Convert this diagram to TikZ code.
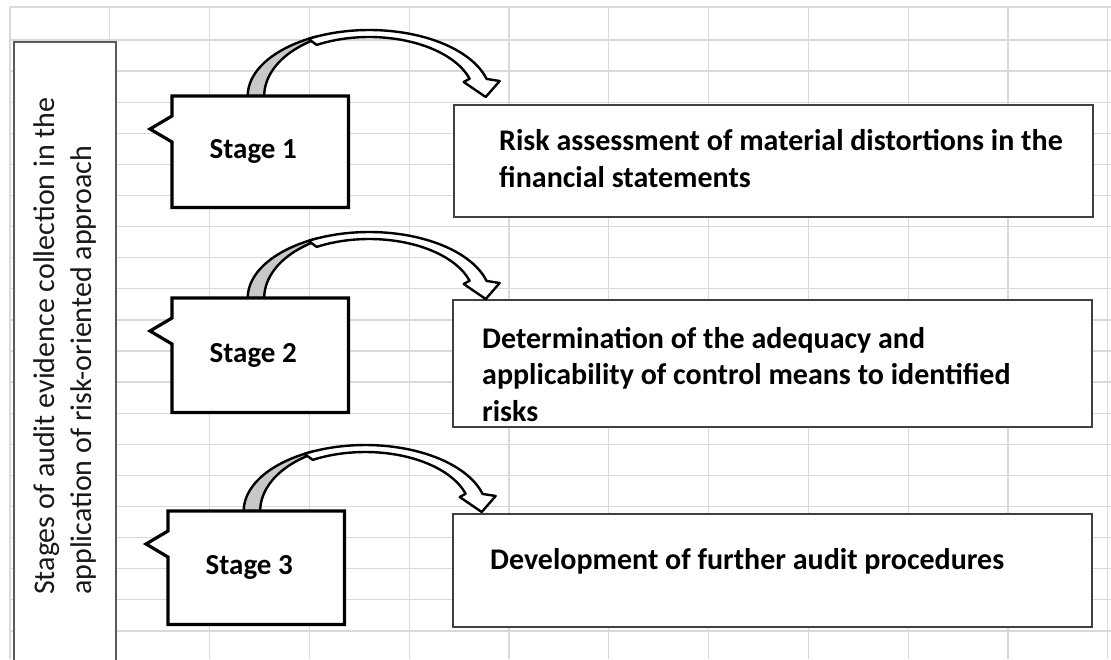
\documentclass[tikz,border=0pt]{standalone}
\usepackage{fontspec}
\setmainfont{Carlito}
\usetikzlibrary{positioning,calc}

\definecolor{gridgray}{RGB}{217,217,217}
\definecolor{bandgray}{RGB}{200,200,200}
\definecolor{framegray}{RGB}{64,64,64}
\definecolor{sidegray}{RGB}{89,89,89}

\tikzset{
  gridline/.style={draw=gridgray, line width=1.3pt},
  sidebox/.style={rectangle, draw=sidegray, line width=1.8pt, fill=white, minimum width=102pt, minimum height=640pt, inner sep=0pt, anchor=north west},
  sidetxt/.style={font=\fontsize{30}{37}\selectfont, text=black!90, align=left, inner sep=0pt, rotate=90, anchor=north west},
  stagebox/.style={rectangle, minimum width=176pt, inner sep=0pt, anchor=north west},
  stageline/.style={draw=black, line width=3.2pt, fill=white, line join=miter},
  stagetxt/.style={font=\fontsize{29}{35}\selectfont\bfseries, inner sep=0pt},
  resultbox/.style={rectangle, draw=framegray, line width=2pt, fill=white, minimum width=639pt, inner sep=0pt, anchor=north west},
  resulttxt/.style={font=\fontsize{30}{36.5}\selectfont\bfseries, align=left, inner sep=0pt, anchor=north west},
  bentarrow/.pic={
    % shaded foot
    \filldraw[fill=bandgray, draw=black, line width=2.4pt, line join=round]
      plot[domain=180:116, samples=24, variable=\t] ({113+121.5*cos(\t)}, {-66*sin(\t)})
      -- plot[domain=116:180, samples=24, variable=\t] ({113+105*cos(\t)}, {-66*sin(\t)}) -- cycle;
    % front band and head
    \filldraw[fill=white, draw=black, line width=2.4pt, line join=round]
      plot[domain=120:15, samples=40, variable=\t] ({113+121.5*cos(\t)}, {-66*sin(\t)})
      -- (243.5,-15) -- (229.5,1) -- (207.5,-14)
      -- plot[domain=17:120, samples=40, variable=\t] ({113+105*cos(\t)}, {-59*sin(\t)}) -- cycle;
  }
}

\begin{document}
\begin{tikzpicture}[x=1pt,y=-1pt]
  \useasboundingbox (0,0) rectangle (1111,659);
  \fill[white] (0,0) rectangle (1111,659);

  % sheet grid
  \foreach \gx in {0,...,11}
    \draw[gridline] ({10+99.8*\gx},7) -- ({10+99.8*\gx},659);
  \draw[gridline] (10,7) -- (1111,7);
  \foreach \gy in {0,...,19}
    \draw[gridline] (10,{40+31.1*\gy}) -- (1111,{40+31.1*\gy});

  % side heading
  \node[sidebox] (side) at (13,41) {};
  \node[sidetxt] (title) at (33,595) {Stages of audit evidence collection in the\\application of risk-oriented approach};

  % stages
  \node[stagebox, minimum height=111pt] (s1) at (172,96) {};
  \node[stagebox, minimum height=114pt] (s2) at (172,298) {};
  \node[stagebox, minimum height=113pt] (s3) at (168,511) {};

  % results
  \node[resultbox, minimum height=112pt] (r1) at (453,104) {};
  \node[resultbox, minimum height=127pt] (r2) at (452,299) {};
  \node[resultbox, minimum height=113.5pt] (r3) at (452,512.5) {};

  \pic at ($(s1.north)+(-4,0)$) {bentarrow};
  \pic at ($(s2.north)+(-4,0)$) {bentarrow};
  \pic at ($(s3.north)+(-4,0)$) {bentarrow};

  \foreach \s in {s1,s2,s3}
    \draw[stageline] (\s.north west) -- (\s.north east) -- (\s.south east) -- (\s.south west)
      -- ($(\s.north west)+(0,46)$) -- ($(\s.north west)+(-22,33)$) -- ($(\s.north west)+(0,20)$) -- cycle;

  \node[stagetxt] (l1) at ($(s1.center)+(-7,0)$) {Stage 1};
  \node[stagetxt] (l2) at ($(s2.center)+(-7,0)$) {Stage 2};
  \node[stagetxt] (l3) at ($(s3.center)+(-7,0)$) {Stage 3};

  \node[resulttxt] (t1) at ($(r1.north west)+(46,25.5)$) {Risk assessment of material distortions in the\\financial statements};
  \node[resulttxt] (t2) at ($(r2.north west)+(30,28)$) {Determination of the adequacy and\\applicability of control means to identified\\risks};
  \node[resulttxt] (t3) at ($(r3.north west)+(38,35.5)$) {Development of further audit procedures};
\end{tikzpicture}
\end{document}
